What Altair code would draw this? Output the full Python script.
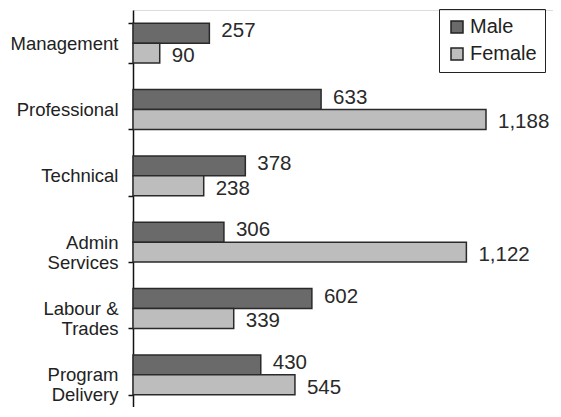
import altair as alt
import pandas as pd

categories = ["Management", "Professional", "Technical", "Admin Services",
              "Labour & Trades", "Program Delivery"]
male = [257, 633, 378, 306, 602, 430]
female = [90, 1188, 238, 1122, 339, 545]
series = ["Male", "Female"]
colors = ["#6a6a6a", "#bdbdbd"]

rows = []
for c, m, f in zip(categories, male, female):
    rows.append({"category": c, "sex": "Male", "value": m})
    rows.append({"category": c, "sex": "Female", "value": f})
df = pd.DataFrame(rows)

FONT = "Liberation Sans"

y_enc = alt.Y(
    "category:N",
    sort=categories,
    scale=alt.Scale(range=[0, 398], paddingInner=0.4, paddingOuter=0.2),
    axis=alt.Axis(
        title=None,
        tickBand="extent",
        domainColor="#111",
        domainWidth=1.5,
        tickColor="#111",
        tickWidth=1.5,
        tickSize=5,
        labelPadding=10,
        labelFont=FONT,
        labelFontSize=18.5,
        labelColor="#222",
        labelAlign="right",
        labelBaseline="middle",
        labelLineHeight=20,
        labelExpr="indexof(datum.label, ' ') > 0 ? [slice(datum.label, 0, lastindexof(datum.label, ' ')), slice(datum.label, lastindexof(datum.label, ' ') + 1)] : datum.label",
    ),
)
x_scale = alt.Scale(domain=[0, 1413.5], nice=False, zero=True)

bars = alt.Chart(df).mark_bar(stroke="#2a2a2a", strokeWidth=1.5).encode(
    y=y_enc,
    yOffset=alt.YOffset("sex:N", sort=series, scale=alt.Scale(paddingInner=0, paddingOuter=0)),
    x=alt.X("value:Q", scale=x_scale, axis=None),
    fill=alt.Fill(
        "sex:N",
        sort=series,
        scale=alt.Scale(domain=series, range=colors),
        legend=alt.Legend(
            title=None,
            orient="none",
            legendX=306,
            legendY=-1,
            strokeColor="#222",
            padding=8,
            symbolType="square",
            symbolSize=144,
            symbolStrokeColor="#222",
            symbolStrokeWidth=1.5,
            symbolOpacity=1,
            labelFont=FONT,
            labelFontSize=20,
            labelColor="#222",
            labelOffset=3,
            rowPadding=7,
        ),
    ),
)

def value_text(sex, dy):
    return alt.Chart(df).transform_filter(
        alt.datum.sex == sex
    ).mark_text(
        align="left", baseline="middle", dx=12, dy=dy,
        font=FONT, fontSize=20.5, color="#2a2a2a",
    ).encode(
        y=alt.Y("category:N", sort=categories),
        yOffset=alt.YOffset("sex:N", sort=series),
        x=alt.X("value:Q", scale=x_scale, axis=None),
        text=alt.Text("value:Q", format=",d"),
    )

chart = alt.layer(bars, value_text("Male", -2), value_text("Female", 3)).properties(
    width=420,
    height=397,
    padding={"left": 125, "top": 2, "right": 0, "bottom": 0},
    autosize=alt.AutoSizeParams(type="none"),
).configure_view(stroke=None).configure(background="white")

chart.save("out.html", embed_options={"renderer": "svg", "actions": False})
